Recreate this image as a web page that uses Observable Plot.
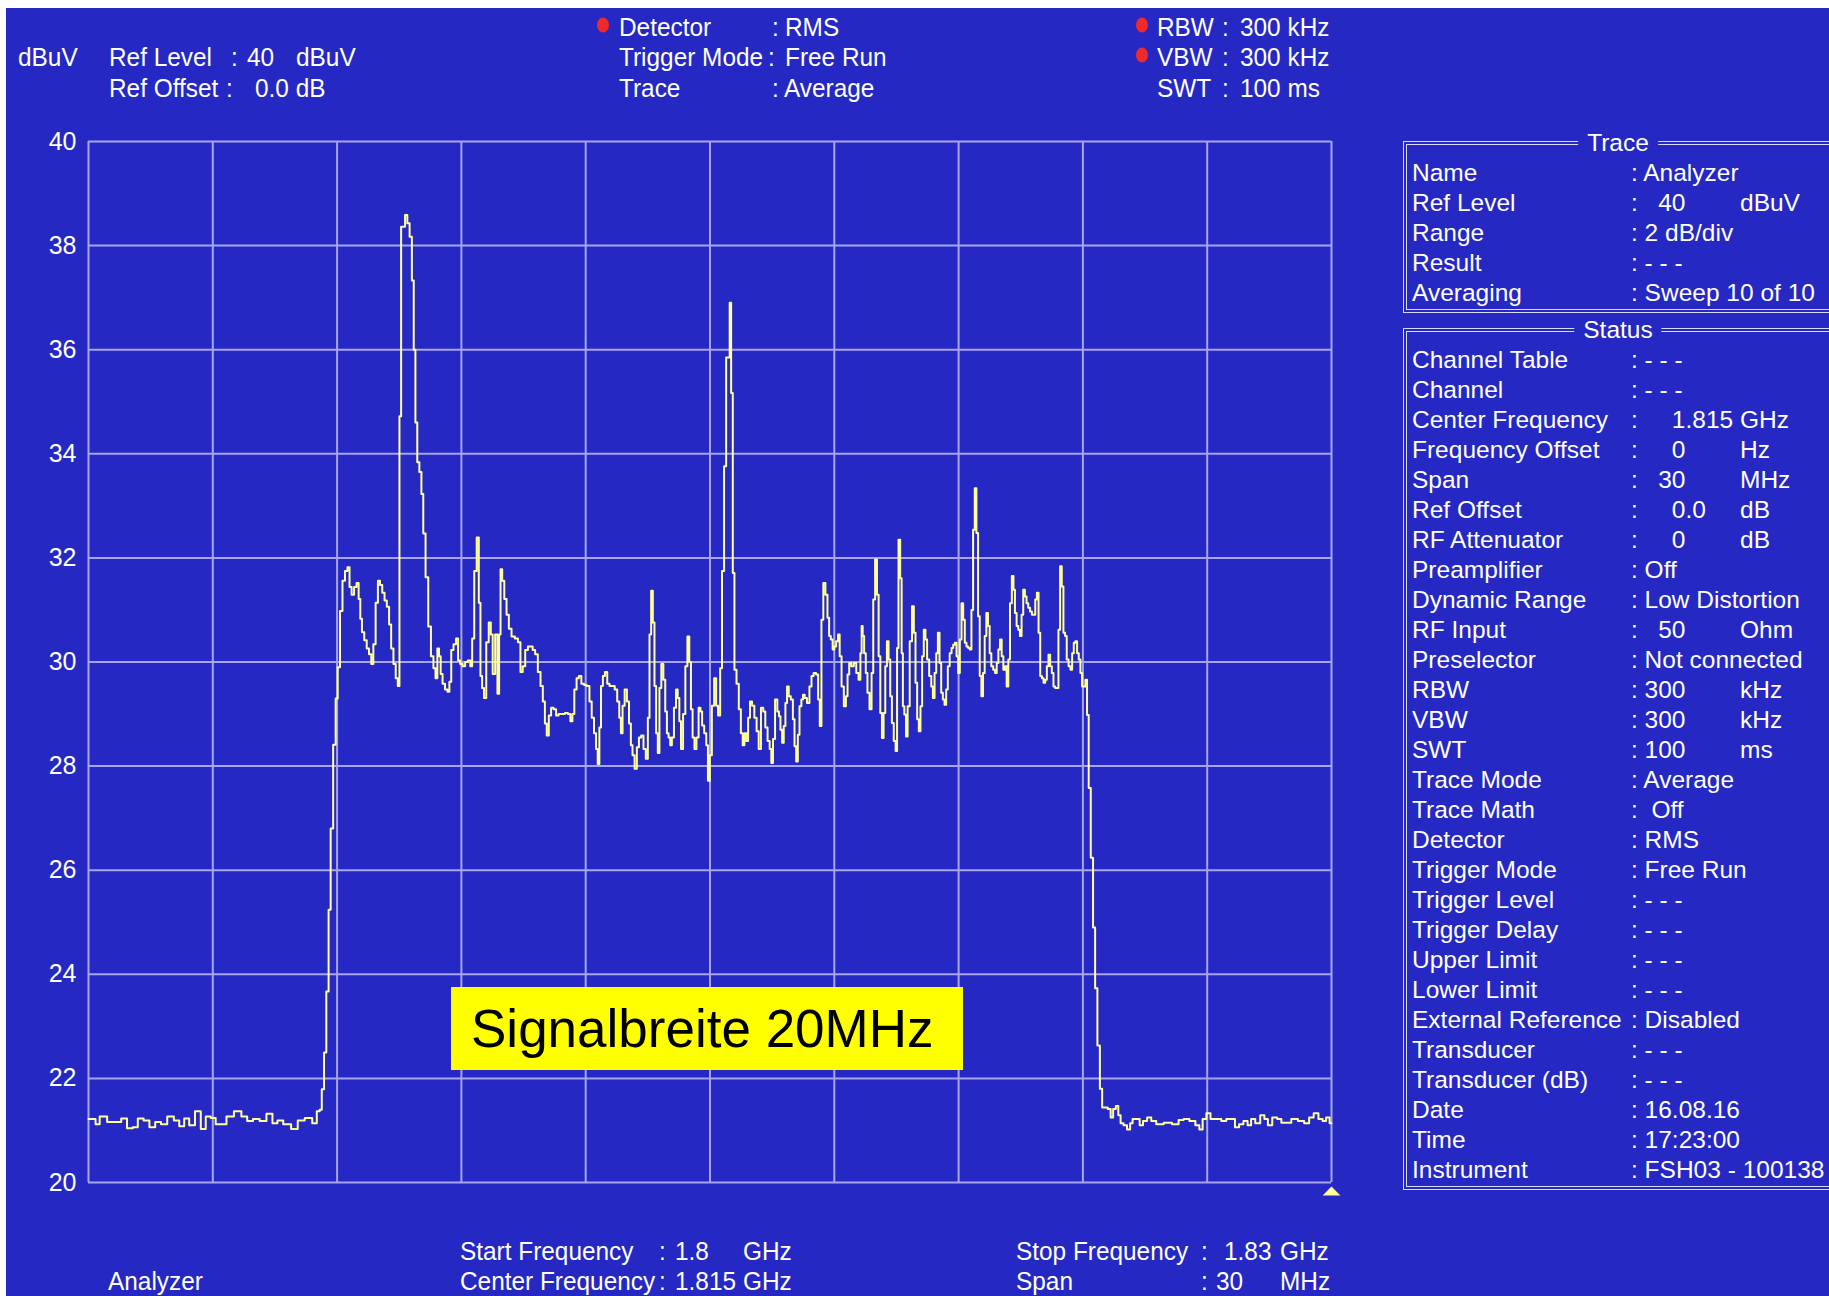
<!DOCTYPE html>
<html lang="de">
<head>
<meta charset="utf-8">
<title>Analyzer – 1.8 GHz bis 1.83 GHz</title>
<script src="https://cdn.jsdelivr.net/npm/d3@7"></script>
<script src="https://cdn.jsdelivr.net/npm/@observablehq/plot@0.6"></script>
<style>
  html, body { margin: 0; padding: 0; background: #ffffff; }
  #stage { position: relative; width: 1829px; height: 1296px; overflow: hidden; }
  #screen { position: absolute; left: 6px; top: 8px; right: 0; bottom: 0; background: #2628c3; }
  .t {
    position: absolute; color: #ffffff;
    font-family: "Liberation Sans", Arial, sans-serif; font-size: 24.5px;
    line-height: 1; white-space: pre; transform: translateY(-50%);
  }
  .c {
    position: absolute; color: #ffffff;
    font-family: "Liberation Sans", Arial, sans-serif; font-size: 26.5px;
    line-height: 1; white-space: pre;
    transform-origin: 0 50%; transform: translateY(-50%) scaleX(0.92);
  }
  .led {
    position: absolute; width: 12px; height: 15px; border-radius: 50%;
    background: #f02a2a; transform: translate(-50%, -50%);
  }
  .box { position: absolute; border: 4px double #dcdcfa; box-sizing: border-box; }
  .boxtitle {
    position: absolute; background: #2628c3; padding: 0 9px; color: #ffffff;
    font-family: "Liberation Sans", Arial, sans-serif; font-size: 24.5px;
    line-height: 1; white-space: pre; transform: translate(-50%, -50%);
  }
  #note {
    position: absolute; left: 451px; top: 987px; width: 512px; height: 83px;
    background: #ffff00; color: #000000; box-sizing: border-box; padding-left: 20px;
    font-family: "Liberation Sans", Arial, sans-serif; font-size: 53px;
    display: flex; align-items: center; white-space: pre;
  }
</style>
</head>
<body>
<div id="stage"><div id="screen"></div></div>
<script>
// Sweep settings
const startMHz = 1800;
const stopMHz = 1830;
const refLevel = 40;      // dBuV
const dbPerDiv = 2;

// Grid: 10 divisions in frequency and level
const freqGrid = [1800, 1803, 1806, 1809, 1812, 1815, 1818, 1821, 1824, 1827, 1830];
const levelTicks = [20, 22, 24, 26, 28, 30, 32, 34, 36, 38, 40];

// Averaged RMS trace: frequency above start (MHz) and level (dBuV)
const traceOffsetMHz = [
  0.00, 0.13, 0.21, 0.33, 0.41, 0.49, 0.61, 0.73, 0.85, 1.01,
  1.13, 1.25, 1.41, 1.53, 1.69, 1.81, 1.99, 2.13, 2.25, 2.37,
  2.49, 2.65, 2.77, 2.89, 3.01, 3.13, 3.25, 3.41, 3.61, 3.77,
  3.89, 4.05, 4.21, 4.38, 4.50, 4.62, 4.78, 5.00, 5.10, 5.34,
  5.46, 5.56, 5.60, 5.66, 5.71, 5.77, 5.82, 5.87, 5.94, 5.99,
  6.04, 6.10, 6.16, 6.22, 6.28, 6.32, 6.38, 6.44, 6.50, 6.54,
  6.58, 6.62, 6.69, 6.74, 6.80, 6.85, 6.90, 6.96, 7.01, 7.06,
  7.12, 7.17, 7.23, 7.28, 7.33, 7.39, 7.44, 7.49, 7.52, 7.57,
  7.61, 7.67, 7.72, 7.78, 7.83, 7.87, 7.91, 7.96, 8.01, 8.06,
  8.10, 8.17, 8.23, 8.30, 8.35, 8.40, 8.44, 8.48, 8.52, 8.57,
  8.64, 8.69, 8.73, 8.78, 8.84, 8.90, 8.94, 9.00, 9.06, 9.12,
  9.19, 9.24, 9.28, 9.34, 9.40, 9.44, 9.48, 9.52, 9.57, 9.63,
  9.69, 9.73, 9.78, 9.85, 9.89, 9.93, 9.96, 10.01, 10.06, 10.12,
  10.17, 10.25, 10.33, 10.40, 10.45, 10.51, 10.57, 10.64, 10.69, 10.75,
  10.81, 10.88, 10.94, 10.99, 11.04, 11.08, 11.14, 11.19, 11.26, 11.31,
  11.38, 11.46, 11.54, 11.60, 11.66, 11.70, 11.75, 11.81, 11.86, 11.93,
  11.99, 12.06, 12.12, 12.17, 12.23, 12.27, 12.31, 12.35, 12.39, 12.44,
  12.49, 12.55, 12.60, 12.67, 12.73, 12.79, 12.83, 12.87, 12.91, 12.97,
  13.02, 13.07, 13.11, 13.15, 13.21, 13.26, 13.31, 13.37, 13.42, 13.48,
  13.52, 13.56, 13.60, 13.64, 13.68, 13.72, 13.76, 13.80, 13.85, 13.90,
  13.94, 13.98, 14.02, 14.06, 14.10, 14.16, 14.20, 14.24, 14.28, 14.32,
  14.38, 14.43, 14.48, 14.52, 14.56, 14.60, 14.65, 14.70, 14.75, 14.79,
  14.83, 14.89, 14.93, 14.97, 15.02, 15.07, 15.13, 15.17, 15.22, 15.27,
  15.31, 15.37, 15.41, 15.46, 15.49, 15.53, 15.57, 15.61, 15.67, 15.72,
  15.77, 15.81, 15.85, 15.90, 15.94, 15.99, 16.04, 16.10, 16.15, 16.20,
  16.26, 16.31, 16.36, 16.42, 16.46, 16.50, 16.54, 16.60, 16.65, 16.68,
  16.72, 16.76, 16.80, 16.84, 16.88, 16.92, 16.98, 17.02, 17.06, 17.10,
  17.14, 17.18, 17.23, 17.26, 17.31, 17.37, 17.43, 17.47, 17.53, 17.59,
  17.63, 17.67, 17.71, 17.76, 17.81, 17.86, 17.89, 17.94, 17.98, 18.02,
  18.07, 18.11, 18.15, 18.20, 18.26, 18.30, 18.34, 18.38, 18.44, 18.50,
  18.56, 18.61, 18.65, 18.67, 18.70, 18.74, 18.78, 18.82, 18.88, 18.92,
  18.96, 19.01, 19.05, 19.09, 19.13, 19.17, 19.21, 19.25, 19.29, 19.33,
  19.37, 19.41, 19.46, 19.50, 19.53, 19.57, 19.61, 19.64, 19.67, 19.71,
  19.75, 19.79, 19.85, 19.90, 19.94, 19.98, 20.02, 20.06, 20.10, 20.14,
  20.18, 20.22, 20.26, 20.32, 20.36, 20.40, 20.44, 20.48, 20.52, 20.56,
  20.60, 20.64, 20.68, 20.72, 20.76, 20.81, 20.85, 20.89, 20.93, 20.97,
  21.01, 21.05, 21.09, 21.13, 21.17, 21.21, 21.25, 21.29, 21.33, 21.37,
  21.41, 21.45, 21.49, 21.53, 21.57, 21.61, 21.65, 21.69, 21.73, 21.77,
  21.81, 21.86, 21.90, 21.94, 21.98, 22.02, 22.06, 22.10, 22.14, 22.18,
  22.22, 22.26, 22.31, 22.34, 22.38, 22.42, 22.46, 22.50, 22.54, 22.58,
  22.62, 22.66, 22.70, 22.75, 22.79, 22.83, 22.87, 22.91, 22.95, 22.99,
  23.03, 23.07, 23.11, 23.15, 23.19, 23.23, 23.27, 23.31, 23.35, 23.39,
  23.43, 23.47, 23.51, 23.55, 23.59, 23.63, 23.68, 23.72, 23.76, 23.80,
  23.84, 23.88, 23.92, 23.96, 24.00, 24.04, 24.08, 24.12, 24.16, 24.22,
  24.27, 24.32, 24.38, 24.44, 24.49, 24.56, 24.64, 24.70, 24.76, 24.83,
  24.88, 24.94, 25.02, 25.11, 25.17, 25.23, 25.33, 25.41, 25.49, 25.61,
  25.69, 25.85, 26.05, 26.25, 26.37, 26.49, 26.65, 26.78, 26.84, 26.94,
  27.02, 27.14, 27.26, 27.42, 27.50, 27.62, 27.72, 27.82, 27.93, 28.02,
  28.10, 28.22, 28.34, 28.42, 28.51, 28.63, 28.75, 28.83, 28.95, 29.11,
  29.27, 29.41, 29.51, 29.63, 29.74, 29.83, 29.91, 30.00
];
const traceLevel = [
  21.22, 21.22, 21.12, 21.27, 21.27, 21.16, 21.16, 21.16, 21.23, 21.04,
  21.06, 21.23, 21.19, 21.06, 21.16, 21.12, 21.27, 21.19, 21.08, 21.23,
  21.10, 21.37, 21.03, 21.27, 21.24, 21.12, 21.12, 21.27, 21.37, 21.27,
  21.18, 21.22, 21.18, 21.32, 21.14, 21.19, 21.12, 21.03, 21.19, 21.24,
  21.14, 21.37, 21.40, 21.79, 22.50, 23.67, 25.24, 26.80, 28.41, 29.30,
  29.90, 30.98, 31.56, 31.75, 31.82, 31.44, 31.29, 31.44, 31.52, 31.21,
  30.83, 30.57, 30.42, 30.26, 30.15, 29.96, 30.34, 31.14, 31.56, 31.48,
  31.33, 31.18, 31.06, 30.72, 30.26, 29.96, 29.69, 29.54, 34.72, 38.36,
  38.36, 38.59, 38.43, 38.17, 37.33, 36.00, 34.60, 33.84, 33.65, 33.23,
  32.47, 31.63, 30.68, 30.11, 29.88, 29.69, 30.26, 30.11, 29.77, 29.58,
  29.47, 29.43, 29.62, 30.23, 30.34, 30.45, 30.03, 29.96, 29.92, 30.00,
  30.03, 29.92, 30.45, 31.75, 32.39, 31.14, 29.73, 29.50, 29.31, 30.38,
  30.76, 30.53, 29.77, 30.53, 29.39, 30.53, 31.78, 31.56, 31.21, 30.91,
  30.64, 30.49, 30.45, 30.38, 29.81, 29.92, 30.23, 30.30, 30.30, 30.23,
  30.15, 29.81, 29.54, 29.24, 28.82, 28.59, 28.97, 29.12, 29.09, 28.97,
  29.00, 29.00, 29.02, 29.00, 28.86, 29.00, 29.47, 29.69, 29.73, 29.58,
  29.56, 29.54, 29.24, 28.93, 28.63, 28.33, 28.04, 28.74, 29.54, 29.73,
  29.81, 29.58, 29.54, 29.54, 29.47, 29.24, 28.93, 28.63, 29.16, 29.47,
  29.24, 28.82, 28.40, 28.21, 27.95, 28.36, 28.55, 28.59, 28.33, 28.14,
  28.93, 30.53, 31.37, 30.76, 29.54, 28.63, 28.25, 29.50, 29.96, 29.66,
  29.05, 28.63, 28.55, 28.40, 28.55, 29.12, 29.47, 29.31, 28.86, 28.33,
  29.00, 29.92, 30.49, 30.00, 29.09, 28.55, 28.33, 28.55, 29.12, 29.05,
  28.78, 28.63, 28.40, 27.72, 28.21, 29.16, 29.69, 29.16, 28.97, 29.88,
  31.75, 33.76, 35.85, 35.85, 36.90, 35.17, 31.71, 29.85, 29.58, 29.09,
  28.63, 28.40, 28.63, 28.48, 28.93, 29.24, 29.16, 28.93, 28.67, 28.33,
  29.12, 29.05, 28.74, 28.48, 28.33, 28.06, 28.52, 29.28, 29.05, 28.96,
  28.70, 28.45, 28.77, 29.21, 29.53, 29.34, 29.28, 28.90, 28.38, 28.09,
  28.60, 29.15, 29.28, 29.37, 29.31, 29.21, 29.53, 29.73, 29.79, 29.76,
  29.28, 28.77, 30.81, 31.52, 31.29, 30.85, 30.50, 30.43, 30.24, 30.30,
  30.40, 30.53, 30.11, 29.53, 29.15, 29.34, 29.76, 29.98, 29.92, 29.98,
  29.79, 29.66, 30.17, 30.69, 30.50, 30.17, 29.79, 29.41, 29.09, 29.79,
  31.20, 31.97, 31.29, 30.11, 29.02, 28.54, 29.02, 29.92, 30.40, 30.05,
  29.34, 28.83, 28.48, 28.29, 30.27, 32.35, 31.61, 30.17, 29.15, 28.99,
  28.57, 29.15, 30.40, 31.07, 30.56, 29.60, 28.90, 28.67, 29.15, 30.11,
  30.62, 30.43, 30.05, 29.73, 29.53, 29.31, 29.79, 30.17, 30.56, 29.98,
  29.41, 29.28, 29.18, 29.47, 29.92, 30.17, 30.27, 30.33, 30.37, 30.11,
  29.79, 30.43, 31.13, 30.81, 30.37, 30.30, 30.27, 30.24, 31.00, 32.54,
  33.34, 32.48, 30.88, 29.73, 29.34, 29.79, 30.50, 30.94, 30.69, 30.17,
  29.92, 29.85, 29.79, 29.98, 30.24, 30.43, 30.11, 29.85, 29.92, 29.53,
  30.05, 31.13, 31.65, 31.39, 30.94, 30.69, 30.62, 30.50, 30.91, 31.39,
  31.26, 31.13, 31.04, 30.97, 30.91, 30.91, 31.20, 31.33, 30.56, 29.73,
  29.69, 29.60, 29.66, 29.92, 30.14, 29.92, 29.79, 29.53, 29.50, 29.50,
  30.62, 31.84, 31.45, 30.56, 30.50, 30.05, 29.92, 29.85, 30.17, 30.37,
  30.40, 30.17, 30.05, 29.79, 29.53, 29.53, 29.66, 28.98, 27.58, 26.24,
  24.90, 23.73, 22.63, 21.80, 21.44, 21.44, 21.41, 21.25, 21.41, 21.47,
  21.29, 21.14, 21.10, 21.02, 21.14, 21.22, 21.22, 21.10, 21.18, 21.25,
  21.18, 21.12, 21.15, 21.12, 21.20, 21.22, 21.18, 21.10, 21.02, 21.22,
  21.33, 21.22, 21.22, 21.18, 21.22, 21.22, 21.06, 21.12, 21.18, 21.10,
  21.22, 21.14, 21.29, 21.22, 21.10, 21.25, 21.22, 21.15, 21.15, 21.22,
  21.18, 21.14, 21.25, 21.33, 21.22, 21.18, 21.25, 21.14
];

// Settings panel text
const traceRows = [
  ["Name", ": Analyzer", ""],
  ["Ref Level", ":   40", "dBuV"],
  ["Range", ": 2 dB/div", ""],
  ["Result", ": - - -", ""],
  ["Averaging", ": Sweep 10 of 10", ""]
];
const statusRows = [
  ["Channel Table", ": - - -", ""],
  ["Channel", ": - - -", ""],
  ["Center Frequency", ":     1.815", "GHz"],
  ["Frequency Offset", ":     0", "Hz"],
  ["Span", ":   30", "MHz"],
  ["Ref Offset", ":     0.0", "dB"],
  ["RF Attenuator", ":     0", "dB"],
  ["Preamplifier", ": Off", ""],
  ["Dynamic Range", ": Low Distortion", ""],
  ["RF Input", ":   50", "Ohm"],
  ["Preselector", ": Not connected", ""],
  ["RBW", ": 300", "kHz"],
  ["VBW", ": 300", "kHz"],
  ["SWT", ": 100", "ms"],
  ["Trace Mode", ": Average", ""],
  ["Trace Math", ":  Off", ""],
  ["Detector", ": RMS", ""],
  ["Trigger Mode", ": Free Run", ""],
  ["Trigger Level", ": - - -", ""],
  ["Trigger Delay", ": - - -", ""],
  ["Upper Limit", ": - - -", ""],
  ["Lower Limit", ": - - -", ""],
  ["External Reference", ": Disabled", ""],
  ["Transducer", ": - - -", ""],
  ["Transducer (dB)", ": - - -", ""],
  ["Date", ": 16.08.16", ""],
  ["Time", ": 17:23:00", ""],
  ["Instrument", ": FSH03 - 100138", ""]
];

const gridColor = "#a6a6ee";
const traceColor = "#ffff9c";

const points = traceOffsetMHz.map((f, i) => ({freq: startMHz + f, level: traceLevel[i]}));

// Flat marker triangle under the stop frequency
const flatTriangle = {
  draw(context, size) {
    const s = Math.sqrt(size);
    context.moveTo(0, -s / 4);
    context.lineTo(s / 2, s / 4);
    context.lineTo(-s / 2, s / 4);
    context.closePath();
  }
};

const chart = Plot.plot({
  width: 1345,
  height: 1200,
  marginLeft: 88,
  marginRight: 14,
  marginTop: 141,
  marginBottom: 18,
  style: {
    background: "transparent",
    color: "#ffffff",
    fontFamily: '"Liberation Sans", Arial, sans-serif',
    fontSize: "25px",
    overflow: "visible"
  },
  x: {domain: [startMHz, stopMHz], axis: null},
  y: {
    domain: [refLevel - 10 * dbPerDiv, refLevel],
    ticks: levelTicks,
    tickSize: 0,
    tickPadding: 12,
    label: null
  },
  marks: [
    Plot.ruleX(freqGrid, {stroke: gridColor, strokeWidth: 2}),
    Plot.ruleY(levelTicks, {stroke: gridColor, strokeWidth: 2}),
    Plot.line(points, {x: "freq", y: "level", stroke: traceColor, strokeWidth: 2, curve: "step"}),
    Plot.dot([stopMHz], {
      x: d => d, y: () => refLevel - 10 * dbPerDiv,
      symbol: flatTriangle, r: 10, fill: traceColor, stroke: "none", dy: 8.5
    })
  ]
});
chart.style.position = "absolute";
chart.style.left = "0px";
chart.style.top = "0px";

const stage = document.getElementById("stage");
stage.appendChild(chart);

const note = document.createElement("div");
note.id = "note";
note.textContent = "Signalbreite 20MHz";
stage.appendChild(note);

function place(text, x, y, cls = "t") {
  const el = document.createElement("div");
  el.className = cls;
  el.textContent = text;
  el.style.left = x + "px";
  el.style.top = y + "px";
  stage.appendChild(el);
  return el;
}
function led(x, y) {
  const el = document.createElement("div");
  el.className = "led";
  el.style.left = x + "px";
  el.style.top = y + "px";
  stage.appendChild(el);
}

// Header (condensed instrument font)
place("dBuV", 17.5, 57, "c");
place("Ref Level", 108.5, 57, "c"); place(":", 231, 57, "c"); place("40", 246.5, 57, "c"); place("dBuV", 296, 57, "c");
place("Ref Offset", 108.5, 87.5, "c"); place(":", 226, 87.5, "c"); place("0.0 dB", 255, 87.5, "c");

led(603, 25);
place("Detector", 619, 27, "c"); place(":", 772, 27, "c"); place("RMS", 785, 27, "c");
place("Trigger Mode", 619, 57, "c"); place(":", 768, 57, "c"); place("Free Run", 785, 57, "c");
place("Trace", 619, 87.5, "c"); place(":", 772, 87.5, "c"); place("Average", 784, 87.5, "c");

led(1142, 25); led(1142, 55);
place("RBW", 1157, 27, "c"); place(":", 1222, 27, "c"); place("300 kHz", 1240, 27, "c");
place("VBW", 1157, 57, "c"); place(":", 1222, 57, "c"); place("300 kHz", 1240, 57, "c");
place("SWT", 1157, 87.5, "c"); place(":", 1222, 87.5, "c"); place("100 ms", 1240, 87.5, "c");

// Footer
place("Analyzer", 108, 1281, "c");
place("Start Frequency", 460, 1250.5, "c"); place(":", 659, 1250.5, "c"); place("1.8", 675, 1250.5, "c"); place("GHz", 743, 1250.5, "c");
place("Center Frequency", 460, 1281, "c"); place(":", 659, 1281, "c"); place("1.815", 675, 1281, "c"); place("GHz", 743, 1281, "c");
place("Stop Frequency", 1016, 1250.5, "c"); place(":", 1201, 1250.5, "c"); place("1.83", 1224, 1250.5, "c"); place("GHz", 1280, 1250.5, "c");
place("Span", 1016, 1281, "c"); place(":", 1201, 1281, "c"); place("30", 1216, 1281, "c"); place("MHz", 1280, 1281, "c");

// Side panel boxes
function box(title, top, bottom) {
  const el = document.createElement("div");
  el.className = "box";
  el.style.left = "1403px";
  el.style.top = (top - 2) + "px";
  el.style.width = "440px";
  el.style.height = (bottom - top + 4) + "px";
  stage.appendChild(el);
  place(title, 1618, top, "boxtitle");
}
box("Trace", 143, 311);
box("Status", 330, 1188);

traceRows.forEach(([label, value, unit], i) => {
  const y = 173 + 30 * i;
  place(label, 1412, y); place(value, 1631, y);
  if (unit) place(unit, 1740, y);
});
statusRows.forEach(([label, value, unit], i) => {
  const y = 360 + 30 * i;
  place(label, 1412, y); place(value, 1631, y);
  if (unit) place(unit, 1740, y);
});
</script>
</body>
</html>
